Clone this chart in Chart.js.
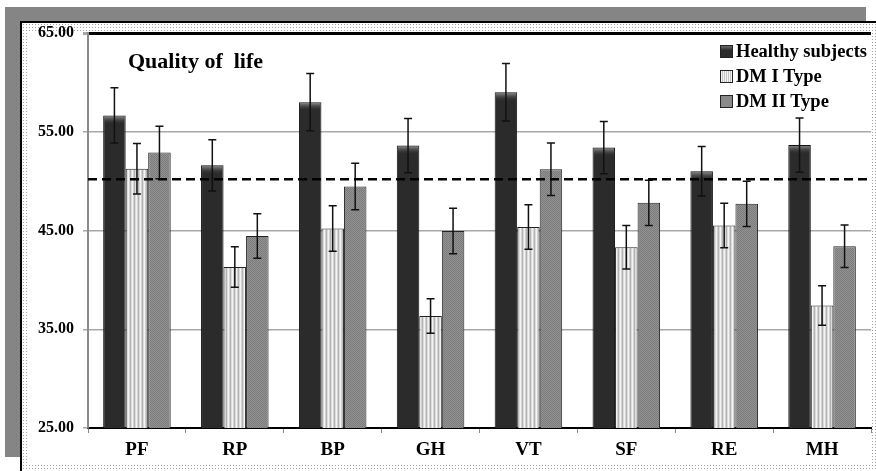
<!DOCTYPE html>
<html>
<head>
<meta charset="utf-8">
<script src="https://cdn.jsdelivr.net/npm/chart.js@4.4.1/dist/chart.umd.min.js"></script>
<style>
  html, body { margin: 0; padding: 0; background: #fff; overflow: hidden; }
  #wrap { position: relative; width: 876px; height: 471px; }
  /* šedý "stín" nahoře a vlevo */
  #shadow { position: absolute; left: 5px; top: 7px; width: 861px; height: 450px; background: #858585; }
  /* rám grafu: černá linka + tečkovaný okraj */
  #frame {
    position: absolute; left: 20px; top: 21px; width: 856px; height: 450px;
    border-top: 2px solid #000; border-left: 2px solid #000; box-sizing: border-box;
    background: radial-gradient(circle, #a0a0a0 0.6px, transparent 0.8px) 0 0 / 3px 3px, #fff;
  }
  #inner { position: absolute; left: 7px; top: 8px; right: 6px; bottom: 6px; background: #fff; }
  canvas { position: absolute; left: 0; top: 0; }
  .txt { position: absolute; font-family: "Liberation Serif", "Times New Roman", serif; font-weight: bold; color: #000; white-space: nowrap; }
  #title { left: 128px; top: 49.5px; font-size: 22px; line-height: 22px; }
  #legend { left: 720px; top: 38.6px; font-size: 18.5px; line-height: 25.4px; }
  .sw { display: inline-block; width: 11px; height: 11px; border: 1px solid #222; margin-right: 3px; vertical-align: -1px; }
  .sw.h { background: linear-gradient(#6a6a6a, #2b2b2b 40%); }
  .sw.d1 { background: repeating-linear-gradient(90deg, #f4f4f4 0 1px, #c4c4c4 1px 2px); }
  .sw.d2 { background: #8a8a8a; }
</style>
</head>
<body>
<div id="wrap">
  <div id="shadow"></div>
  <div id="frame"><div id="inner"></div></div>
  <canvas id="graf" width="876" height="471"></canvas>
  <div id="title" class="txt">Quality of&nbsp; life</div>
  <div id="legend" class="txt">
    <div><span class="sw h"></span>Healthy subjects</div>
    <div><span class="sw d1"></span>DM I Type</div>
    <div><span class="sw d2"></span>DM II Type</div>
  </div>
</div>
<script>
// ------- data ----------------------------------------------------------
const KATEGORIE = ["PF", "RP", "BP", "GH", "VT", "SF", "RE", "MH"];
const ZDRAVI     = [56.65, 51.6, 58.0, 53.6, 59.0, 53.4, 51.0, 53.65];
const ZDRAVI_ERR = [2.8, 2.6, 2.9, 2.75, 2.9, 2.65, 2.5, 2.75];
const DM1        = [51.25, 41.3, 45.2, 36.35, 45.35, 43.3, 45.5, 37.4];
const DM1_ERR    = [2.55, 2.05, 2.3, 1.75, 2.25, 2.2, 2.25, 2.0];
const DM2        = [52.9, 44.45, 49.45, 44.95, 51.2, 47.8, 47.7, 43.4];
const DM2_ERR    = [2.65, 2.25, 2.35, 2.3, 2.65, 2.3, 2.3, 2.15];
const Y_MIN = 25, Y_MAX = 65, Y_KROK = 10;
const REF_HODNOTA = 50.2; // přerušovaná čára

// ------- vzorky výplní ----------------------------------------------------
function vzorek(w, h, kresli) {
  const c = document.createElement("canvas");
  c.width = w; c.height = h;
  kresli(c.getContext("2d"));
  return c.getContext("2d").createPattern(c, "repeat");
}
const PRUHY = vzorek(4, 4, (x) => {
  ["#f4f4f4", "#d2d2d2", "#b4b4b4", "#dcdcdc"].forEach((b, i) => {
    x.fillStyle = b; x.fillRect(i, 0, 1, 4);
  });
});
const SEDA = vzorek(2, 2, (x) => {
  x.fillStyle = "#929292"; x.fillRect(0, 0, 2, 2);
  x.fillStyle = "#7c7c7c"; x.fillRect(0, 0, 1, 1); x.fillRect(1, 1, 1, 1);
});

// ------- pluginy: lesk na tmavých sloupcích, chybové úsečky, ref. čára ---
const chybovky = {
  id: "chybovky",
  afterDatasetDraw(chart, args) {
    if (args.index !== 0) return;
    const ctx = chart.ctx;
    ctx.save();
    args.meta.data.forEach((bar) => {
      const l = bar.x - bar.width / 2 + 1, w = bar.width - 2;
      const g = ctx.createLinearGradient(0, bar.y + 1, 0, bar.y + 9);
      g.addColorStop(0, "rgba(140,140,140,0.9)");
      g.addColorStop(1, "rgba(43,43,43,0)");
      ctx.fillStyle = g;
      ctx.fillRect(l, bar.y + 1, w, 8);
    });
    ctx.restore();
  },
  afterDatasetsDraw(chart) {
    const ctx = chart.ctx, y = chart.scales.y;
    const chyby = [ZDRAVI_ERR, DM1_ERR, DM2_ERR];
    ctx.save();
    ctx.strokeStyle = "#111";
    ctx.lineWidth = 1.5;
    chart.data.datasets.forEach((ds, i) => {
      chart.getDatasetMeta(i).data.forEach((bar, j) => {
        const v = ds.data[j], e = chyby[i][j];
        const y1 = y.getPixelForValue(v + e), y2 = y.getPixelForValue(v - e);
        ctx.beginPath();
        ctx.moveTo(bar.x, y1); ctx.lineTo(bar.x, y2);
        ctx.moveTo(bar.x - 4, y1); ctx.lineTo(bar.x + 4, y1);
        ctx.moveTo(bar.x - 4, y2); ctx.lineTo(bar.x + 4, y2);
        ctx.stroke();
      });
    });
    // přerušovaná čára
    const a = chart.chartArea, ry = y.getPixelForValue(REF_HODNOTA);
    ctx.strokeStyle = "#000";
    ctx.lineWidth = 2.5;
    ctx.setLineDash([9, 5]);
    ctx.beginPath();
    ctx.moveTo(a.left, ry); ctx.lineTo(a.right, ry);
    ctx.stroke();
    ctx.restore();
  },
};

// ------- graf ---------------------------------------------------------------
new Chart(document.getElementById("graf"), {
  type: "bar",
  data: {
    labels: KATEGORIE,
    datasets: [
      { label: "Healthy subjects", data: ZDRAVI, backgroundColor: "#2b2b2b", borderColor: "#111" },
      { label: "DM I Type", data: DM1, backgroundColor: PRUHY, borderColor: "#222" },
      { label: "DM II Type", data: DM2, backgroundColor: SEDA, borderColor: "#222" },
    ],
  },
  options: {
    responsive: false,
    animation: false,
    devicePixelRatio: 1,
    categoryPercentage: 0.69,
    barPercentage: 1.0,
    layout: { padding: { top: 33, right: 5, bottom: 0, left: 0 } },
    plugins: { legend: { display: false }, tooltip: { enabled: false } },
    datasets: { bar: { borderWidth: 1 } },
    scales: {
      x: {
        afterFit: (s) => { s.height = 43; },
        border: { color: "#000", width: 2 },
        grid: { offset: true, drawOnChartArea: false, drawTicks: true, tickLength: 5, color: "#888" },
        ticks: { color: "#000", padding: 6,
          font: { family: "Liberation Serif", weight: "bold", size: 19 } },
      },
      y: {
        min: Y_MIN, max: Y_MAX,
        afterFit: (s) => { s.width = 88; },
        border: { color: "#8c8c8c", width: 2 },
        grid: {
          tickLength: 5,
          color: (c) => (c.tick && (c.tick.value === Y_MAX || c.tick.value === Y_MIN)) ? "#000" : "#a8a8a8",
          tickColor: "#a8a8a8",
          lineWidth: (c) => (c.tick && c.tick.value === Y_MAX) ? 3 : 1.5,
        },
        ticks: {
          stepSize: Y_KROK, color: "#000", padding: 9,
          callback: (v) => Number(v).toFixed(2),
          font: { family: "Liberation Serif", weight: "bold", size: 16 },
        },
      },
    },
  },
  plugins: [chybovky],
});
</script>
</body>
</html>
